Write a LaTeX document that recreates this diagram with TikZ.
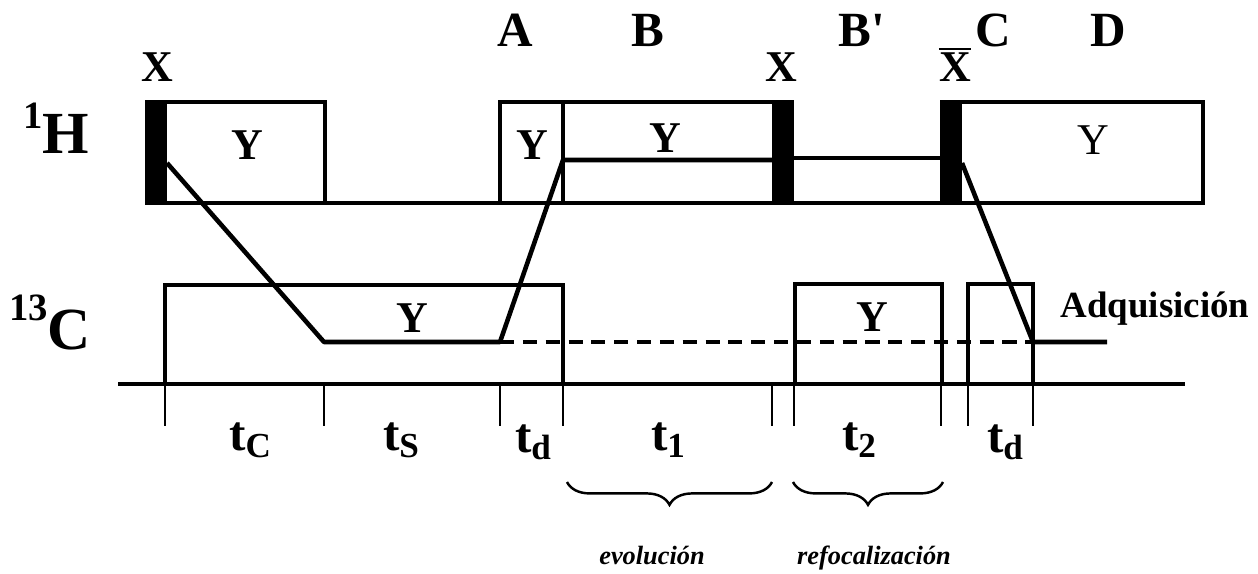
\documentclass[tikz,border=0pt]{standalone}
\usepackage{fontspec}
\setmainfont{Liberation Serif}
\usetikzlibrary{decorations.pathreplacing}

\newcommand\tsub[1]{t\raisebox{-4pt}{\fontsize{20}{20}\selectfont #1}}

\begin{document}
\begin{tikzpicture}[x=0.02cm,y=-0.02cm,
  axis/.style={line width=2.8pt},
  pbox/.style={draw,line width=2.2pt},
  mline/.style={line width=2.6pt,line join=round},
  tickline/.style={line width=1pt},
  lab/.style={anchor=base,inner sep=0pt,font=\bfseries\fontsize{28}{28}\selectfont},
  xlab/.style={lab,font=\bfseries\fontsize{25}{25}\selectfont},
  ylab/.style={lab,font=\bfseries\fontsize{25}{25}\selectfont},
  nuc/.style={lab,font=\bfseries\fontsize{34}{34}\selectfont},
  note/.style={lab,font=\bfseries\itshape\fontsize{15}{15}\selectfont}]
\useasboundingbox (0,0) rectangle (1258,574);

% period labels
\node[lab] (A) at (515,47) {A};
\node[lab] (B) at (648,47) {B};
\node[lab] (Bp) at (862,47) {B\textquotesingle};
\node[lab] (C) at (993,47) {C};
\node[lab] (D) at (1108,47) {D};
\node[xlab] (x1) at (157,82) {X};
\node[xlab] (x2) at (781,82) {X};
\node[xlab] (xb) at (955,82) {X};
\draw[line width=1.2pt] ([yshift=2pt]xb.north west) -- ([yshift=2pt]xb.north east);

% nuclei
\node[nuc] (H) at (56,154) {\raisebox{14.5pt}{\fontsize{22}{22}\selectfont 1}H};
\node[nuc] (Cn) at (50,349) {\raisebox{16pt}{\fontsize{22}{22}\selectfont 13}C};

% 1H channel
\draw[axis] (147,203) -- (1203,203);
\draw[pbox] (147,203) rectangle (325,102);
\draw[pbox] (500,203) rectangle (792,102);
\draw[pbox] (563,102) -- (563,203);
\draw[pbox] (942,203) rectangle (1203,102);
\fill (147,102) rectangle (167,203);
\fill (772,102) rectangle (792,203);
\fill (942,102) rectangle (962,203);
\node[ylab] (y1) at (247,160) {Y};
\node[ylab] (y2) at (532,160) {Y};
\node[ylab] (y3) at (665,153) {Y};
\node[ylab,font=\fontsize{25}{25}\selectfont] (y4) at (1093,155) {Y};

% 13C channel
\draw[axis] (118,384) -- (1185,384);
\draw[pbox] (165,384) |- (563,285) -- (563,384);
\draw[pbox] (795,384) rectangle (942,284);
\draw[pbox] (968,384) rectangle (1033,284);
\node[ylab] (y5) at (412,333) {Y};
\node[ylab] (y6) at (872,332) {Y};

% magnetization path
\coordinate (m1) at (167,163);
\coordinate (m2) at (324,342);
\coordinate (m3) at (500,342);
\coordinate (m4) at (563,160);
\coordinate (m5) at (772,160);
\coordinate (m6) at (792,158);
\coordinate (m7) at (942,158);
\coordinate (m8) at (962,163);
\coordinate (m9) at (1033,342);
\coordinate (m10) at (1107,342);
\draw[mline] (m1) -- (m2) -- (m3) -- (m4) -- (m5);
\draw[mline] (m6) -- (m7);
\draw[mline] (m8) -- (m9) -- (m10);
\draw[line width=2pt,dash pattern=on 8pt off 5pt] (m3) -- (m9);
\node[lab,font=\bfseries\fontsize{21}{21}\selectfont] (acq) at (1155,317) {Adquisición};

% time marks
\foreach \x in {165,324,500,563,772,794,941,968,1033}
  \draw[tickline] (\x,384) -- (\x,426);
\node[lab] (tc) at (250,450) {\tsub{C}};
\node[lab] (ts) at (401,450) {\tsub{S}};
\node[lab] (td1) at (533,452) {\tsub{d}};
\node[lab] (t1) at (668,450) {\tsub{1}};
\node[lab] (t2) at (859,450) {\tsub{2}};
\node[lab] (td2) at (1005,452) {\tsub{d}};

% braces
\draw[line width=1.4pt,decorate,decoration={brace,mirror,amplitude=13pt}] (567,482) -- (772,482);
\draw[line width=1.4pt,decorate,decoration={brace,mirror,amplitude=13pt}] (793,482) -- (943,482);
\node[note] (evo) at (652,564) {evolución};
\node[note] (ref) at (874,564) {refocalización};
\end{tikzpicture}
\end{document}
